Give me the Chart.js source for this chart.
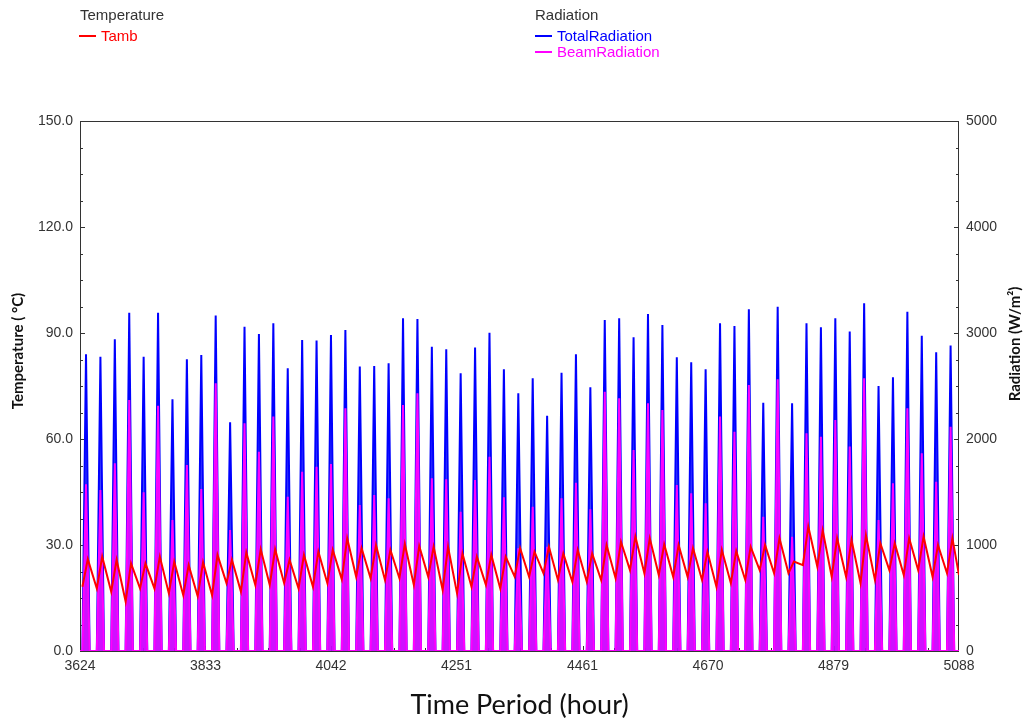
<!DOCTYPE html>
<html>
<head>
<meta charset="utf-8">
<script src="https://cdn.jsdelivr.net/npm/chart.js@4.4.1/dist/chart.umd.min.js"></script>
<style>
  body { margin: 0; background: #fff; }
  #wrap { position: relative; width: 1029px; height: 722px; }
  #report_chart { position: absolute; left: 0; top: 0; }
  .leg { position: absolute; font: 15px "Liberation Sans", Arial, sans-serif; line-height: 16px; white-space: nowrap; }
  .leg i { display: inline-block; width: 17px; height: 2px; vertical-align: middle; margin-right: 5px; margin-top: -2px; }
</style>
</head>
<body>
<div id="wrap">
  <canvas id="report_chart" width="1029" height="722"></canvas>
  <div class="leg" style="left:80px;top:7px;color:#333">Temperature</div>
  <div class="leg" style="left:79px;top:28px;color:#ff0000"><i style="background:#ff0000"></i>Tamb</div>
  <div class="leg" style="left:535px;top:7px;color:#333">Radiation</div>
  <div class="leg" style="left:535px;top:28px;color:#0000ff"><i style="background:#0000ff"></i>TotalRadiation</div>
  <div class="leg" style="left:535px;top:44px;color:#ff00ff"><i style="background:#ff00ff"></i>BeamRadiation</div>
</div>
<script>
// hours of the year shown on the x axis
var xStart = 3624;
var xEnd = 5088;
var xTicks = [3624, 3833, 4042, 4251, 4461, 4670, 4879, 5088];

// hour within each day: sunrise, peak, sunset / temperature min, max
var radHours = [4, 10, 16];
var tempHours = [4, 13];

// daily peak radiation, W/m2 (61 days)
var totalPeak = [
  2799, 2777, 2940, 3192, 2777, 3192, 2374, 2752, 2793, 3164, 2157, 3060, 2991, 3091, 2667,
  2934, 2928, 2981, 3028, 2683, 2689, 2714, 3139, 3132, 2871, 2846, 2620, 2862, 3003, 2657,
  2431, 2573, 2220, 2626, 2799, 2488, 3123, 3139, 2959, 3179, 3075, 2771, 2723, 2657, 3091,
  3066, 3223, 2343, 3248, 2337, 3091, 3054, 3139, 3013, 3280, 2500, 2582, 3201, 2975, 2818, 2881
];
var beamPeak = [
  1572, 1519, 1770, 2368, 1497, 2314, 1236, 1755, 1528, 2525, 1142, 2148, 1880, 2211, 1456,
  1692, 1739, 1764, 2289, 1377, 1472, 1440, 2321, 2431, 1629, 1620, 1314, 1613, 1833, 1450,
  969, 1361, 984, 1440, 1588, 1337, 2446, 2384, 1896, 2337, 2274, 1566, 1488, 1393, 2211,
  2069, 2509, 1267, 2563, 1078, 2054, 2022, 2179, 1928, 2573, 1236, 1582, 2289, 1865, 1597, 2116
];

// daily ambient temperature, deg C
var tambMin = [
  18.2, 17.7, 16.8, 14.0, 17.7, 17.7, 16.3, 15.8, 15.5, 15.8, 19.2, 16.8, 18.7, 18.7, 19.2, 17.7,
  18.2, 19.2, 20.3, 21.0, 20.6, 20.1, 20.6, 18.7, 21.0, 17.3, 16.3, 18.2, 18.7, 17.7, 21.0,
  21.0, 22.0, 20.1, 19.6, 19.6, 20.1, 20.6, 22.9, 22.0, 21.5, 21.0, 21.0, 20.1, 18.2, 19.2,
  20.1, 22.9, 22.0, 22.0, 24.3, 23.9, 21.0, 21.0, 19.2, 20.1, 22.9, 21.5, 22.9, 21.0, 22.0
];
var tambMax = [
  26.0, 26.7, 25.8, 24.8, 24.8, 26.7, 25.3, 24.3, 25.1, 27.2, 25.8, 27.9, 28.8, 28.8, 25.8,
  27.2, 28.1, 28.6, 31.9, 29.1, 30.0, 28.6, 30.3, 29.7, 29.5, 29.5, 27.6, 26.7, 27.2, 26.7, 29.1,
  28.1, 29.5, 27.6, 28.6, 27.6, 30.0, 30.9, 32.4, 31.9, 30.2, 30.0, 29.1, 28.1, 28.6,
  28.3, 29.5, 30.0, 31.9, 25.3, 35.2, 34.1, 31.9, 31.4, 32.8, 30.5, 30.5, 31.9, 32.4, 30.0, 31.9
];
var tambEnd = 21.5;

var fontFamily = '"Liberation Sans", Arial, sans-serif';

// box round the plot, inward tick marks and the two rotated axis titles
var framePlugin = {
    id: 'frame'
    ,beforeDatasetsDraw: function(chart) {
        var c = chart.ctx, a = chart.chartArea, s = chart.scales;
        c.save();
        c.strokeStyle = '#333';
        c.lineWidth = 1;
        c.strokeRect(a.left + 0.5, a.top + 0.5, a.right - a.left - 1, a.bottom - a.top);
        c.beginPath();
        var v, p, len;
        for (v = 0; v <= 150; v += 7.5) {
            p = Math.round(s.y.getPixelForValue(v)) + 0.5;
            len = (v % 30 === 0) ? 5 : 3;
            c.moveTo(a.left, p); c.lineTo(a.left + len, p);
        }
        for (v = 0; v <= 5000; v += 250) {
            p = Math.round(s.y1.getPixelForValue(v)) + 0.5;
            len = (v % 1000 === 0) ? 5 : 3;
            c.moveTo(a.right, p); c.lineTo(a.right - len, p);
        }
        for (var i = 0; i < xTicks.length - 1; i++) {
            for (var k = 0; k < 4; k++) {
                v = xTicks[i] + (xTicks[i + 1] - xTicks[i]) * k / 4;
                p = Math.round(s.x.getPixelForValue(v)) + 0.5;
                len = k === 0 ? 5 : 3;
                c.moveTo(p, a.bottom); c.lineTo(p, a.bottom - len);
            }
        }
        c.stroke();
        c.restore();
    }
    ,afterDraw: function(chart) {
        var c = chart.ctx, a = chart.chartArea;
        c.save();
        c.fillStyle = '#111';
        c.font = 'bold 15px Lato, "Open Sans", sans-serif';
        c.textAlign = 'center';
        c.textBaseline = 'middle';
        c.translate(18, a.top + 230);
        c.rotate(-Math.PI / 2);
        c.fillText('Temperature ( \u00B0C)', 0, 0);
        c.restore();
        c.save();
        c.fillStyle = '#111';
        c.font = 'bold 15px Lato, "Open Sans", sans-serif';
        c.textAlign = 'center';
        c.textBaseline = 'middle';
        c.translate(chart.width - 14, a.top + 223);
        c.rotate(-Math.PI / 2);
        c.fillText('Radiation (W/m\u00B2)', 0, 0);
        c.restore();
    }
};

function radPoints(peaks) {
    var pts = [{ x: xStart, y: 0 }];
    for (var d = 0; d < peaks.length; d++) {
        var base = xStart + 24 * d;
        pts.push({ x: base + radHours[0], y: 0 });
        pts.push({ x: base + radHours[1], y: peaks[d] });
        pts.push({ x: base + radHours[2], y: 0 });
    }
    pts.push({ x: xEnd, y: 0 });
    return pts;
}

function tempPoints() {
    var pts = [];
    for (var d = 0; d < tambMax.length; d++) {
        var base = xStart + 24 * d;
        pts.push({ x: base + tempHours[0], y: tambMin[d] });
        pts.push({ x: base + tempHours[1], y: tambMax[d] });
    }
    pts.push({ x: xEnd, y: tambEnd });
    return pts;
}

function renderChart() {
    var ctx = document.getElementById('report_chart').getContext('2d');
    new Chart(ctx, {
        type: 'line'
        ,data: {
            datasets: [{
                label: 'Tamb'
                ,data: tempPoints()
                ,borderColor: '#ff0000'
                ,borderWidth: 2
                ,yAxisID: 'y'
                ,order: 0
            }, {
                label: 'BeamRadiation'
                ,data: radPoints(beamPeak)
                ,borderColor: '#ff00ff'
                ,backgroundColor: 'rgba(255,0,255,0.75)'
                ,fill: 'origin'
                ,borderWidth: 2
                ,yAxisID: 'y1'
                ,order: 1
            }, {
                label: 'TotalRadiation'
                ,data: radPoints(totalPeak)
                ,borderColor: '#0000ff'
                ,backgroundColor: 'rgba(0,0,255,0.75)'
                ,fill: 'origin'
                ,borderWidth: 2
                ,yAxisID: 'y1'
                ,order: 2
            }]
        }
        ,options: {
            responsive: false
            ,animation: false
            ,parsing: false
            ,elements: { point: { radius: 0 }, line: { tension: 0, borderJoinStyle: 'miter' } }
            ,layout: { padding: { top: 121 } }
            ,plugins: { legend: { display: false }, tooltip: { enabled: false } }
            ,scales: {
                x: {
                    type: 'linear'
                    ,min: xStart
                    ,max: xEnd
                    ,grid: { display: false, drawTicks: false }
                    ,border: { display: false }
                    ,afterBuildTicks: function(scale) {
                        scale.ticks = xTicks.map(function(v) { return { value: v }; });
                    }
                    ,afterFit: function(scale) { scale.height = 71; }
                    ,ticks: {
                        autoSkip: false, maxRotation: 0, padding: 7, color: '#333'
                        ,font: { family: fontFamily, size: 14 }
                        ,callback: function(v) { return String(v); }
                    }
                    ,title: {
                        display: true, text: 'Time Period (hour)', color: '#111'
                        ,font: { family: 'Lato, "Open Sans", sans-serif', size: 27 }
                        ,padding: { top: 0, bottom: 1 }
                    }
                }
                ,y: {
                    position: 'left'
                    ,min: 0
                    ,max: 150
                    ,grid: { display: false, drawTicks: false }
                    ,border: { display: false }
                    ,afterFit: function(scale) { scale.width = 80; }
                    ,ticks: {
                        stepSize: 30, padding: 7, color: '#333'
                        ,font: { family: fontFamily, size: 14 }
                        ,callback: function(v) { return v.toFixed(1); }
                    }
                }
                ,y1: {
                    position: 'right'
                    ,min: 0
                    ,max: 5000
                    ,grid: { display: false, drawTicks: false }
                    ,border: { display: false }
                    ,afterFit: function(scale) { scale.width = 70; }
                    ,ticks: {
                        stepSize: 1000, padding: 7, color: '#333'
                        ,font: { family: fontFamily, size: 14 }
                        ,callback: function(v) { return String(v); }
                    }
                }
            }
        }
        ,plugins: [framePlugin]
    });
}

renderChart();
</script>
</body>
</html>
